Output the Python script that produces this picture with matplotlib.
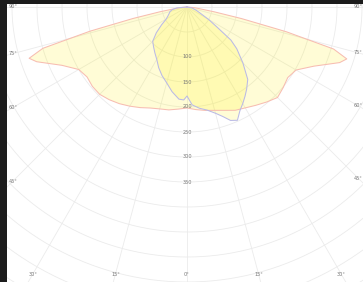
"""
配光曲线极坐标图 (C0-C180 / C90-C270)
"""

import numpy as np
import matplotlib
matplotlib.use('Agg')
import matplotlib.pyplot as plt

# C90-C270 平面 (宽的蝙蝠翼形, 粉色轮廓)
pink_angles = [0, 5, 10, 15, 20, 25, 30, 35, 40, 45, 50, 55, 60, 65, 70, 72, 74, 76, 78, 80, 85, 90]
pink_left = [202, 205, 209, 211, 215, 222, 229, 236, 242, 247, 247, 244, 250, 276, 320, 332, 300, 200, 110, 55, 15, 0]
pink_right = [202, 206, 210, 214, 220, 228, 233, 240, 248, 256, 251, 246, 252, 280, 325, 336, 305, 205, 112, 55, 15, 0]

# C0-C180 平面 (窄的, 蓝色轮廓)
blue_left_angles = [0, 2, 5, 10, 15, 20, 25, 30, 35, 40, 45, 50, 55, 60, 65, 70, 75, 80, 85, 90]
blue_left = [178, 186, 185, 172, 157, 146, 134, 121, 112, 104, 97, 80, 62, 48, 42, 38, 35, 30, 20, 0]
blue_right_angles = [0, 3, 7, 11, 15, 18, 21, 24, 27, 30, 33, 36, 40, 45, 50, 53, 56, 60, 65, 70, 80, 90]
blue_right = [178, 196, 204, 210, 220, 230, 243, 248, 233, 223, 213, 203, 189, 158, 130, 110, 74, 50, 29, 20, 10, 0]

# 刻度
ring_labels = [100, 150, 200, 250, 300, 350]
angle_labels = [-90, -75, -60, -45, -30, -15, 0, 15, 30, 45, 60, 75, 90]


def to_xy(angles, values, sign):
    a = np.radians(np.asarray(angles, dtype=float)) * sign
    r = np.asarray(values, dtype=float)
    return r * np.sin(a), -r * np.cos(a)


def curve(a_left, v_left, a_right, v_right):
    xl, yl = to_xy(a_left, v_left, -1)
    xr, yr = to_xy(a_right, v_right, 1)
    x = np.concatenate([xl[::-1], xr])
    y = np.concatenate([yl[::-1], yr])
    return x, y


def main():
    fig = plt.figure(figsize=(3.63, 2.82), dpi=100, facecolor='#1c1c1c')
    ax = fig.add_axes([7 / 363, 0, 356 / 363, 278 / 282])
    ax.set_facecolor('white')
    ax.set_xlim(-360, 352)
    ax.set_ylim(-550, 6)
    ax.axis('off')
    ax.add_patch(plt.Rectangle((-360, -550), 712, 556, color='white', zorder=0))

    # 网格: 圆环 + 射线
    t = np.linspace(0, 2 * np.pi, 400)
    for r in range(50, 750, 50):
        ax.plot(r * np.cos(t), r * np.sin(t), color='#ebebeb', lw=0.6, zorder=1)
    for a in range(-90, 91, 15):
        ang = np.radians(a)
        ax.plot([0, 900 * np.sin(ang)], [0, -900 * np.cos(ang)], color='#ebebeb', lw=0.6, zorder=1)

    # 曲线
    px, py = curve(pink_angles, pink_left, pink_angles, pink_right)
    ax.fill(px, py, color='#fff000', alpha=0.16, lw=0, zorder=2)
    ax.plot(np.append(px, px[0]), np.append(py, py[0]), color='#f7bdb1', lw=0.75, zorder=3)

    bx, by = curve(blue_left_angles, blue_left, blue_right_angles, blue_right)
    ax.fill(bx, by, color='#fff000', alpha=0.16, lw=0, zorder=2)
    ax.plot(np.append(bx, bx[0]), np.append(by, by[0]), color='#babae6', lw=0.75, zorder=3)

    # 径向标签
    for v in ring_labels:
        ax.text(0, -v, str(v), ha='center', va='center', fontsize=3.6, color='#777777', zorder=4)

    # 角度标签 (放在射线与边框相交处)
    xl, xr, yb = -348, 342, -534
    for a in angle_labels:
        ang = np.radians(a)
        s, c = np.sin(ang), np.cos(ang)
        ts = []
        if s < 0:
            ts.append(xl / s)
        if s > 0:
            ts.append(xr / s)
        if c > 1e-9:
            ts.append(-yb / c)
        tt = min(ts)
        ax.text(tt * s, -tt * c, f'{abs(a)}°', ha='center', va='center',
                fontsize=3.6, color='#777777', zorder=4)

    fig.savefig('out.png', dpi=100, facecolor=fig.get_facecolor())
    plt.close(fig)


if __name__ == "__main__":
    main()
